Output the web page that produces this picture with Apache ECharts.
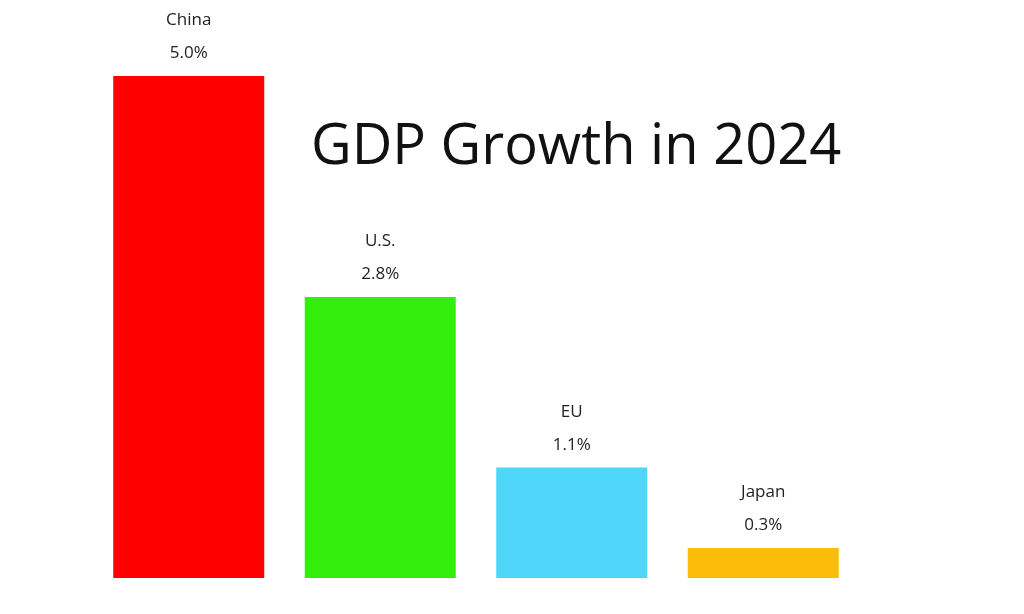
<!DOCTYPE html>
<html>
<head>
<meta charset="utf-8">
<script src="https://cdn.jsdelivr.net/npm/echarts@6/dist/echarts.min.js"></script>
<style>
  html, body { margin: 0; padding: 0; background: #fff; }
  #main { width: 1024px; height: 614px; }
</style>
</head>
<body>
<div id="main"></div>
<script>
// data
const regions = ['China', 'U.S.', 'EU', 'Japan'];
const growth = [5.0, 2.8, 1.1, 0.3];
const barColors = ['#ff0000', '#33ee0c', '#4dd6f8', '#fbbd0a'];

const chart = echarts.init(document.getElementById('main'));

option = {
    backgroundColor: '#ffffff',
    animation: false,
    title: {
        text: 'GDP Growth in 2024',
        left: 306,
        top: 115,
        textStyle: {
            fontFamily: 'Open Sans',
            fontSize: 56,
            fontWeight: 'normal',
            color: '#111111'
        }
    },
    grid: {
        left: 93,
        right: 165,
        top: 76,
        bottom: 36
    },
    xAxis: {
        type: 'category',
        data: regions,
        show: false
    },
    yAxis: {
        type: 'value',
        min: 0,
        max: 5,
        show: false
    },
    series: [
        {
            type: 'bar',
            barWidth: 151,
            data: growth.map(function (v, i) {
                return { value: v, itemStyle: { color: barColors[i] } };
            }),
            label: {
                show: true,
                position: 'top',
                distance: 6,
                fontFamily: 'Open Sans',
                fontSize: 17,
                lineHeight: 33,
                color: '#222222',
                formatter: function (p) {
                    return p.name + '\n' + p.value.toFixed(1) + '%';
                }
            }
        }
    ]
};

chart.setOption(option);
</script>
</body>
</html>
